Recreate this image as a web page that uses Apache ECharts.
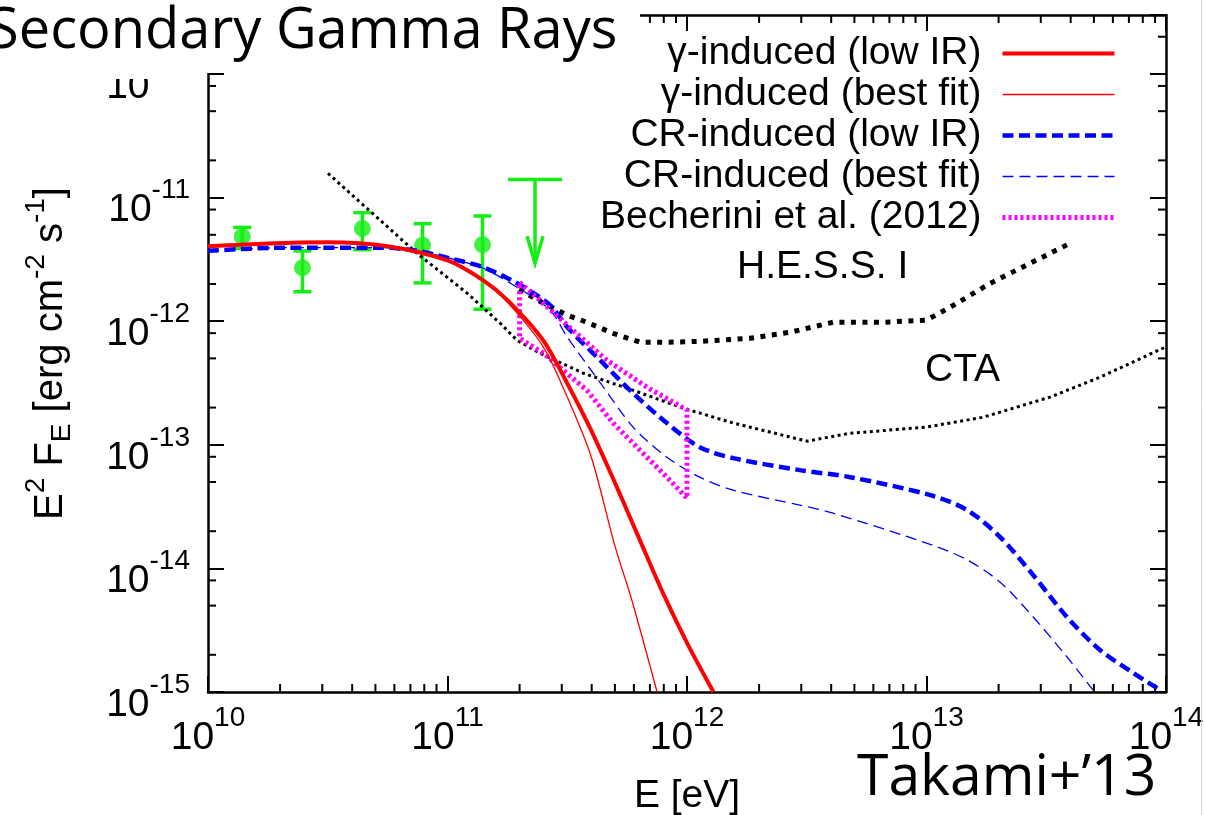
<!DOCTYPE html>
<html><head><meta charset="utf-8">
<script src="https://cdn.jsdelivr.net/npm/echarts@6/dist/echarts.min.js"></script>
<style>html,body{margin:0;padding:0;background:#fff}#c{width:1206px;height:815px}</style>
</head><body><div id="c"></div>
<script>
// ---- axis ranges / ticks ----
const X_MIN = 1e10, X_MAX = 1e14, Y_MIN = 1e-15, Y_MAX = 3e-10;
const xDecades = [10, 11, 12, 13];
const yDecades = [-15, -14, -13, -12, -11, -10];
const xMinorMult = [2, 3, 4, 5, 6, 7, 8, 9];
const yMinorMult = [2, 5, 8];

// ---- series data (E [eV], E^2 F_E [erg cm^-2 s^-1]) ----
const gammaLowE = [1e10, 1.78e10, 3.16e10, 5.62e10, 1e11, 1.41e11, 1.78e11, 2.51e11, 3.16e11, 3.98e11, 5.01e11, 6.31e11, 7.94e11, 1e12, 1.29e12];
const gammaLowF = [4.04e-12, 4.26e-12, 4.35e-12, 4.04e-12, 3.10e-12, 2.14e-12, 1.48e-12, 7.0e-13, 3.15e-13, 1.31e-13, 4.9e-14, 1.75e-14, 6.3e-15, 2.5e-15, 1.0e-15];

const gammaBestE = [1e10, 1.78e10, 3.16e10, 5.62e10, 1e11, 1.41e11, 1.78e11, 2.51e11, 3.16e11, 3.98e11, 5.01e11, 5.89e11, 7.5e11];
const gammaBestF = [4.0e-12, 4.22e-12, 4.3e-12, 4.0e-12, 3.05e-12, 2.1e-12, 1.42e-12, 6.2e-13, 2.44e-13, 8.0e-14, 1.5e-14, 5.5e-15, 1.0e-15];

const crLowE = [1e10, 2.06e10, 5.38e10, 7.46e10, 1.02e11, 1.41e11, 1.95e11, 2.68e11, 3.16e11, 4.34e11, 5.96e11, 8.24e11, 1.13e12, 1.56e12, 2.96e12, 4.80e12, 1.04e13, 1.48e13, 2.03e13, 2.79e13, 3.86e13, 5.30e13, 7.28e13, 9.44e13];
const crLowF = [3.71e-12, 3.93e-12, 3.93e-12, 3.71e-12, 3.23e-12, 2.73e-12, 2.03e-12, 1.35e-12, 8.97e-13, 4.83e-13, 2.61e-13, 1.50e-13, 9.57e-14, 7.80e-14, 6.24e-14, 5.47e-14, 3.91e-14, 2.96e-14, 1.79e-14, 8.83e-15, 4.04e-15, 2.19e-15, 1.43e-15, 1.04e-15];

const crBestE = [1e10, 2.06e10, 5.38e10, 7.46e10, 1.02e11, 1.41e11, 1.95e11, 2.68e11, 3.16e11, 4.34e11, 5.96e11, 8.24e11, 1.13e12, 1.56e12, 2.96e12, 4.07e12, 1.06e13, 1.48e13, 2.03e13, 2.79e13, 3.86e13, 4.95e13];
const crBestF = [3.71e-12, 3.93e-12, 3.93e-12, 3.71e-12, 3.23e-12, 2.68e-12, 1.88e-12, 1.23e-12, 7.45e-13, 3.18e-13, 1.39e-13, 7.94e-14, 5.47e-14, 4.29e-14, 3.25e-14, 2.80e-14, 1.54e-14, 1.17e-14, 7.74e-15, 4.04e-15, 1.92e-15, 1.04e-15];

// Becherini et al. (2012) butterfly, traced around its outline
const becheriniE = [2e11, 2.43e11, 3.34e11, 4.63e11, 6.81e11, 1e12, 1e12, 8.24e11, 6.37e11, 4.91e11, 3.82e11, 2.51e11, 2e11, 2e11];
const becheriniF = [2.06e-12, 1.48e-12, 8.43e-13, 4.83e-13, 2.92e-13, 1.91e-13, 3.7e-14, 5.47e-14, 9.04e-14, 1.50e-13, 2.76e-13, 5.51e-13, 7.27e-13, 2.06e-12];

const ctaE = [3.17e10, 7.46e10, 1.21e11, 1.66e11, 1.95e11, 2.43e11, 3.68e11, 5.96e11, 9.62e11, 1.56e12, 3.17e12, 4.80e12, 1.0e13, 1.72e13, 3.28e13, 5.30e13, 1e14];
const ctaF = [1.57e-11, 3.54e-12, 1.68e-12, 9.62e-13, 7.01e-13, 5.51e-13, 3.80e-13, 2.76e-13, 1.98e-13, 1.50e-13, 1.07e-13, 1.24e-13, 1.39e-13, 1.67e-13, 2.43e-13, 3.52e-13, 6.2e-13];

const hessE = [1.99e11, 2.51e11, 3.16e11, 3.82e11, 4.91e11, 6.37e11, 8.24e11, 1.13e12, 1.83e12, 2.69e12, 4.07e12, 6.58e12, 1.0e13, 1.25e13, 1.84e13, 3.28e13, 3.97e13];
const hessF = [1.81e-12, 1.40e-12, 1.12e-12, 9.80e-13, 7.98e-13, 6.75e-13, 6.75e-13, 6.87e-13, 7.27e-13, 8.13e-13, 9.80e-13, 9.80e-13, 1.02e-12, 1.29e-12, 2.02e-12, 3.54e-12, 4.26e-12];

// data points with error bars
const pointE = [1.39e10, 2.48e10, 4.41e10, 7.87e10, 1.40e11];
const pointF = [4.85e-12, 2.71e-12, 5.61e-12, 4.11e-12, 4.16e-12];
const pointLo = [3.88e-12, 1.73e-12, 3.79e-12, 2.04e-12, 1.25e-12];
const pointHi = [5.74e-12, 3.70e-12, 7.55e-12, 6.15e-12, 7.10e-12];
// upper limit: energy, limit value, arrow tip value
const ulE = [2.32e11];
const ulF = [1.40e-11];
const ulTip = [2.94e-12];

const legendNames = ['\u03b3-induced (low IR)', '\u03b3-induced (best fit)', 'CR-induced (low IR)', 'CR-induced (best fit)', 'Becherini et al. (2012)'];

// ---- helpers ----
const zip = (a, b) => a.map((v, i) => [v, b[i]]);
const FONT = 'Liberation Sans';
const GREEN = '#14ee14';
function powLabel(v) {
  const e = Math.log10(v); const r = Math.round(e);
  if (Math.abs(e - r) > 1e-6) return '';
  return '{b|10}{s|' + r + '}';
}
const tickRich = {
  b: { fontFamily: FONT, fontSize: 39, color: '#000', lineHeight: 42, verticalAlign: 'middle' },
  s: { fontFamily: FONT, fontSize: 28, color: '#000', lineHeight: 28, padding: [0, 0, 40, 0], verticalAlign: 'middle' }
};
const xMinor = [], yMinor = [];
xDecades.forEach(d => xMinorMult.forEach(m => { const v = m * Math.pow(10, d); if (v < X_MAX) xMinor.push(v); }));
yDecades.forEach(d => yMinorMult.forEach(m => { const v = m * Math.pow(10, d); if (v < Y_MAX) yMinor.push(v); }));

const axisLineStyle = { color: '#000', width: 2.5 };
const tickStyle = { color: '#000', width: 2 };

function lineSeries(name, E, F, color, width, type, extra) {
  return Object.assign({
    name, type: 'line', data: zip(E, F), symbol: 'none', showSymbol: false,
    lineStyle: { color, width, type }, itemStyle: { color }, silent: true,
    smooth: 0.3, animation: false
  }, extra || {});
}

const chart = echarts.init(document.getElementById('c'), null, { renderer: 'canvas' });
chart.setOption({
  animation: false,
  backgroundColor: '#fff',
  grid: { left: 208, right: 40, top: 15, bottom: 123, outerBoundsMode: 'none' },
  xAxis: [
    { type: 'log', logBase: 10, min: X_MIN, max: X_MAX, position: 'bottom',
      axisLine: { show: true, onZero: false, lineStyle: axisLineStyle },
      axisTick: { show: true, inside: true, length: 16, lineStyle: tickStyle },
      splitLine: { show: false }, minorTick: { show: false },
      axisLabel: { formatter: powLabel, margin: 25, rich: tickRich },
      name: 'E [eV]', nameLocation: 'middle', nameGap: 84,
      nameTextStyle: { fontFamily: FONT, fontSize: 39, color: '#000' } },
    { type: 'log', logBase: 10, min: X_MIN, max: X_MAX, position: 'top',
      axisLine: { show: true, onZero: false, lineStyle: axisLineStyle },
      axisTick: { show: true, inside: true, length: 16, lineStyle: tickStyle },
      splitLine: { show: false }, axisLabel: { show: false } }
  ],
  yAxis: [
    { type: 'log', logBase: 10, min: Y_MIN, max: Y_MAX, position: 'left',
      axisLine: { show: true, onZero: false, lineStyle: axisLineStyle },
      axisTick: { show: true, inside: true, length: 16, lineStyle: tickStyle },
      splitLine: { show: false }, minorTick: { show: false },
      axisLabel: { formatter: powLabel, margin: 18, rich: tickRich, padding: [26, 0, 0, 0] },
      name: '{n|E}{p|2}{n| F}{d|E}{n| [erg cm}{p|-2}{n| s}{p|-1}{n|]}',
      nameLocation: 'middle', nameGap: 136, nameRotate: 90,
      nameTextStyle: { rich: {
        n: { fontFamily: FONT, fontSize: 40, color: '#000', lineHeight: 42, verticalAlign: 'middle' },
        p: { fontFamily: FONT, fontSize: 28, color: '#000', lineHeight: 28, padding: [0, 0, 30, 0], verticalAlign: 'middle' },
        d: { fontFamily: FONT, fontSize: 28, color: '#000', lineHeight: 28, padding: [22, 0, 0, 0], verticalAlign: 'middle' }
      } } },
    { type: 'log', logBase: 10, min: Y_MIN, max: Y_MAX, position: 'right',
      axisLine: { show: true, onZero: false, lineStyle: axisLineStyle },
      axisTick: { show: true, inside: true, length: 16, lineStyle: tickStyle },
      splitLine: { show: false }, axisLabel: { show: false } }
  ],
  legend: {
    data: legendNames, orient: 'vertical', right: 89, top: 34, align: 'right',
    padding: 0, itemWidth: 112, itemHeight: 14, itemGap: 2, selectedMode: false,
    textStyle: { fontFamily: FONT, fontSize: 39, color: '#000', lineHeight: 30, padding: [0, 16, 0, 0] },
    lineStyle: { width: 'inherit' },
    itemStyle: { opacity: 0 }
  },
  series: [
    // error bars
    { type: 'custom', name: 'errbars', silent: true,
      data: pointE.map((e, i) => [e, pointLo[i], pointHi[i]]),
      encode: { x: 0, y: [1, 2] },
      renderItem: (params, api) => {
        const lo = api.coord([api.value(0), api.value(1)]);
        const hi = api.coord([api.value(0), api.value(2)]);
        const st = { stroke: GREEN, lineWidth: 3.5 };
        return { type: 'group', children: [
          { type: 'line', shape: { x1: lo[0], y1: lo[1], x2: hi[0], y2: hi[1] }, style: st },
          { type: 'line', shape: { x1: lo[0] - 9, y1: lo[1], x2: lo[0] + 9, y2: lo[1] }, style: st },
          { type: 'line', shape: { x1: hi[0] - 9, y1: hi[1], x2: hi[0] + 9, y2: hi[1] }, style: st }
        ] };
      } },
    { type: 'scatter', name: 'points', data: zip(pointE, pointF), symbol: 'circle', symbolSize: 17,
      itemStyle: { color: GREEN }, silent: true },
    // upper limit with arrow
    { type: 'custom', name: 'ul', silent: true,
      data: ulE.map((e, i) => [e, ulF[i], ulTip[i]]),
      encode: { x: 0, y: [1, 2] },
      renderItem: (params, api) => {
        const top = api.coord([api.value(0), api.value(1)]);
        const tip = api.coord([api.value(0), api.value(2)]);
        const st = { stroke: GREEN, lineWidth: 3.5 };
        return { type: 'group', children: [
          { type: 'line', shape: { x1: top[0] - 27, y1: top[1], x2: top[0] + 27, y2: top[1] }, style: st },
          { type: 'line', shape: { x1: top[0], y1: top[1], x2: tip[0], y2: tip[1] }, style: st },
          { type: 'polyline', shape: { points: [[tip[0] - 8, tip[1] - 27], [tip[0], tip[1]], [tip[0] + 8, tip[1] - 27]] }, style: { stroke: GREEN, lineWidth: 3.5, fill: null } }
        ] };
      } },
    lineSeries('CTA', ctaE, ctaF, '#000', 3, [3, 3.5], { smooth: false }),
    lineSeries('HESS', hessE, hessF, '#000', 5, [5, 6.5], { smooth: false }),
    lineSeries(legendNames[3], crBestE, crBestF, '#0000ff', 1.3, [11, 6]),
    lineSeries(legendNames[2], crLowE, crLowF, '#0000ff', 4.5, [11, 5.5]),
    lineSeries(legendNames[4], becheriniE, becheriniF, '#ff00ff', 5, [3, 3], { smooth: false }),
    lineSeries(legendNames[1], gammaBestE, gammaBestF, '#ff0000', 1.3, 'solid'),
    lineSeries(legendNames[0], gammaLowE, gammaLowF, '#ff0000', 4, 'solid'),
    // minor ticks on x (bottom & top)
    { type: 'custom', name: 'xminor', silent: true, data: xMinor.map(v => [v, Y_MIN]), encode: { x: 0, y: 1 },
      renderItem: (params, api) => {
        const b = api.coord([api.value(0), Y_MIN]); const t = api.coord([api.value(0), Y_MAX]);
        const st = { stroke: '#000', lineWidth: 2 };
        return { type: 'group', children: [
          { type: 'line', shape: { x1: b[0], y1: b[1], x2: b[0], y2: b[1] - 8 }, style: st },
          { type: 'line', shape: { x1: t[0], y1: t[1], x2: t[0], y2: t[1] + 8 }, style: st }
        ] };
      } },
    // minor ticks on y (left & right)
    { type: 'custom', name: 'yminor', silent: true, data: yMinor.map(v => [X_MIN, v]), encode: { x: 0, y: 1 },
      renderItem: (params, api) => {
        const l = api.coord([X_MIN, api.value(1)]); const r = api.coord([X_MAX, api.value(1)]);
        const st = { stroke: '#000', lineWidth: 2 };
        return { type: 'group', children: [
          { type: 'line', shape: { x1: l[0], y1: l[1], x2: l[0] + 8, y2: l[1] }, style: st },
          { type: 'line', shape: { x1: r[0], y1: r[1], x2: r[0] - 8, y2: r[1] }, style: st }
        ] };
      } }
  ],
  graphic: [
    { type: 'text', x: 737, y: 267, z: 50, style: { text: 'H.E.S.S. I', fontFamily: FONT, fontSize: 39, fill: '#000', verticalAlign: 'middle' } },
    { type: 'text', x: 925, y: 370, z: 50, style: { text: 'CTA', fontFamily: FONT, fontSize: 39, fill: '#000', verticalAlign: 'middle' } },
    { type: 'rect', z: 100, shape: { x: 0, y: 0, width: 640, height: 73 }, style: { fill: '#fff' } },
    { type: 'rect', z: 100, shape: { x: 90, y: 0, width: 110, height: 79 }, style: { fill: '#fff' } },
    { type: 'text', x: -12, y: 32, z: 101, style: { text: 'Secondary Gamma Rays', fontFamily: 'Open Sans', fontSize: 56, fill: '#000', verticalAlign: 'middle' } },
    { type: 'text', x: 857, y: 779, z: 101, style: { text: 'Takami+\u201913', fontFamily: 'Open Sans', fontSize: 57, fill: '#000', verticalAlign: 'middle' } },
    { type: 'line', z: 101, shape: { x1: 1201.5, y1: 0, x2: 1201.5, y2: 815 }, style: { stroke: '#d8d8d8', lineWidth: 1 } }
  ]
});
</script>
</body></html>
